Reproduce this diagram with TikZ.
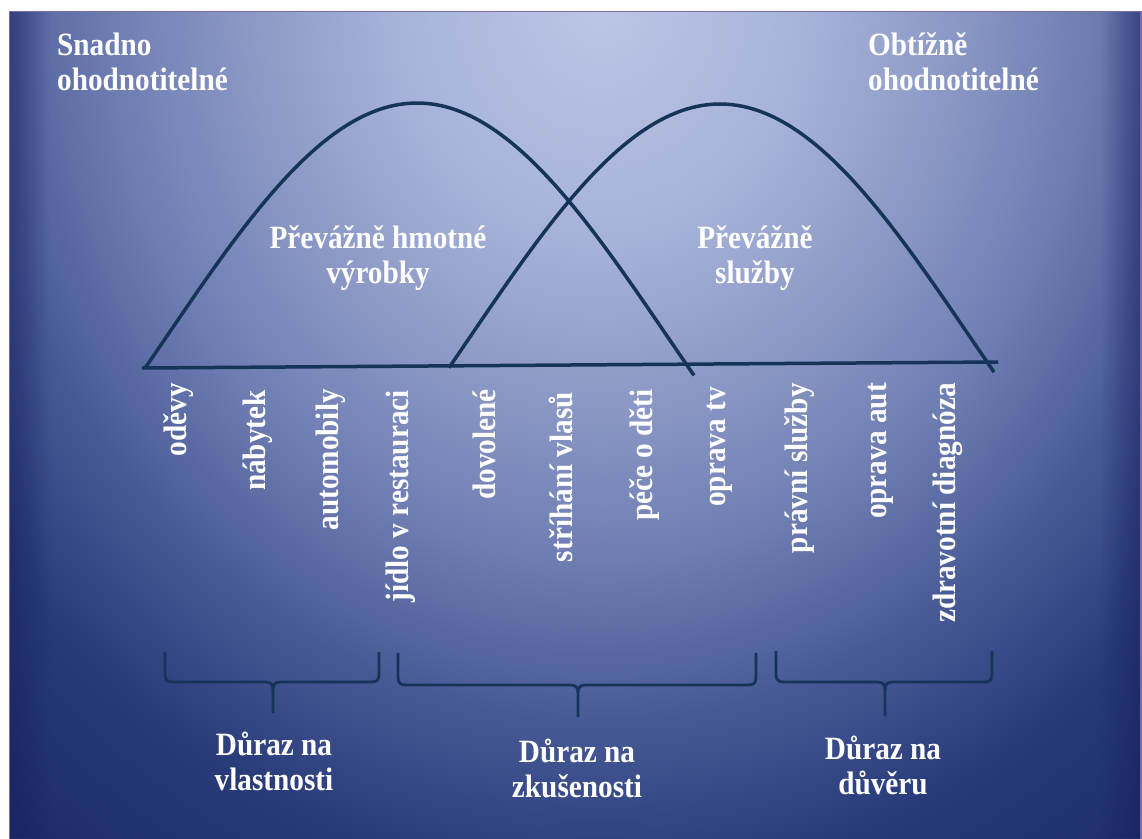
\documentclass[tikz,border=0pt]{standalone}
\usepackage{fontspec}
\newfontfamily\lab{Liberation Serif}[FakeStretch=0.9]
\definecolor{ink}{RGB}{22,52,88}
\definecolor{framec}{RGB}{128,104,172}
\definecolor{edgec}{RGB}{22,34,98}
\definecolor{bg0}{RGB}{188,198,230}
\definecolor{bg1}{RGB}{166,178,216}
\definecolor{bg2}{RGB}{140,153,198}
\definecolor{bg3}{RGB}{110,125,178}
\definecolor{bg4}{RGB}{72,90,150}
\definecolor{bg5}{RGB}{40,58,120}
\definecolor{bg6}{RGB}{24,38,104}
\pgfdeclareradialshading{bgshade}{\pgfpoint{0bp}{0bp}}{color(0bp)=(bg0); color(5.36bp)=(bg1); color(8.93bp)=(bg2); color(12.5bp)=(bg3); color(16.07bp)=(bg4); color(19.64bp)=(bg5); color(25bp)=(bg6); color(50bp)=(bg6)}
\tikzset{
  curve/.style={draw=ink, line width=3.5pt},
  brace/.style={draw=ink, line width=2.8pt, line join=round},
  lbl/.style={text=white, font=\lab\bfseries\fontsize{32.5}{35}\selectfont, inner sep=0pt, align=center},
  corner/.style={lbl, align=left},
  vlbl/.style={lbl, rotate=90, anchor=base east}
}
\begin{document}
\begin{tikzpicture}[x=1pt, y=-1pt]
\useasboundingbox (0,0) rectangle (1142,838);
\fill[white] (0,0) rectangle (1142,838);
\begin{scope}
  \clip (9,11) rectangle (1142,838);
  \fill[bg6] (9,11) rectangle (1142,838);
  \shade[shading=bgshade] (600,0) ellipse[x radius=980pt, y radius=1120pt];
  % darker soft edges at the sides
  \foreach \i in {0,...,19} {
    \fill[edgec, opacity={0.55*(1-\i/20)}] ({9+2*\i},11) rectangle ({11+2*\i},838);
    \fill[edgec, opacity={0.55*(1-\i/20)}] ({1142-2*\i},11) rectangle ({1140-2*\i},838);
  }
\end{scope}
\draw[framec, line width=1.2pt] (9.5,11.5) rectangle (1141,845);

% corner labels
\node[corner, anchor=base west] (easy) at (57,90) {Snadno\\ohodnotitelné};
\node[corner, anchor=base west] (hard) at (868,90) {Obtížně\\ohodnotitelné};

% axis
\coordinate (axL) at (142,368);
\coordinate (axR) at (998,362);
\draw[curve] (axL) -- (axR);

% curves
\draw[curve] plot[domain=145:694, samples=120] (\x, {103 + 235*(1-cos(0.358*(\x-417)))});
\draw[curve] plot[domain=449:994, samples=120] (\x, {104 + 235*(1-cos(0.358*(\x-720)))});

% region labels
\node[lbl, anchor=base] (goods) at (378,283) {Převážně hmotné\\výrobky};
\node[lbl, anchor=base] (serv) at (755,283) {Převážně\\služby};

% vertical labels
\node[vlbl] (l1) at (186,383) {oděvy};
\node[vlbl] (l2) at (265,390) {nábytek};
\node[vlbl] (l3) at (338,389) {automobily};
\node[vlbl] (l4) at (408,390) {jídlo v restauraci};
\node[vlbl] (l5) at (495,389) {dovolené};
\node[vlbl] (l6) at (572,392) {stříhání vlasů};
\node[vlbl] (l7) at (652,389) {péče o děti};
\node[vlbl] (l8) at (725,387) {oprava tv};
\node[vlbl] (l9) at (807,383) {právní služby};
\node[vlbl] (l10) at (886,383) {oprava aut};
\node[vlbl] (l11) at (955,383) {zdravotní diagnóza};

% braces
\draw[brace] (165,652) -- (165,674) .. controls (165,680) and (167,682) .. (173,682) -- (265,682) .. controls (271,682) and (273,684) .. (273,690) -- (273,713);
\draw[brace] (379,652) -- (379,674) .. controls (379,680) and (377,682) .. (371,682) -- (281,682) .. controls (275,682) and (273,684) .. (273,690);

\draw[brace] (398,653) -- (398,677) .. controls (398,683) and (400,685) .. (406,685) -- (570,685) .. controls (576,685) and (578,687) .. (578,693) -- (578,717);
\draw[brace] (756,653) -- (756,677) .. controls (756,683) and (754,685) .. (748,685) -- (586,685) .. controls (580,685) and (578,687) .. (578,693);

\draw[brace] (776,651) -- (776,674) .. controls (776,680) and (778,682) .. (784,682) -- (877,682) .. controls (883,682) and (885,684) .. (885,690) -- (885,716);
\draw[brace] (992,651) -- (992,674) .. controls (992,680) and (990,682) .. (984,682) -- (893,682) .. controls (887,682) and (885,684) .. (885,690);

% bottom labels
\node[lbl, anchor=base] (prop) at (274,790) {Důraz na\\vlastnosti};
\node[lbl, anchor=base] (exp) at (577,797) {Důraz na\\zkušenosti};
\node[lbl, anchor=base] (trust) at (883,794) {Důraz na\\důvěru};
\end{tikzpicture}
\end{document}
